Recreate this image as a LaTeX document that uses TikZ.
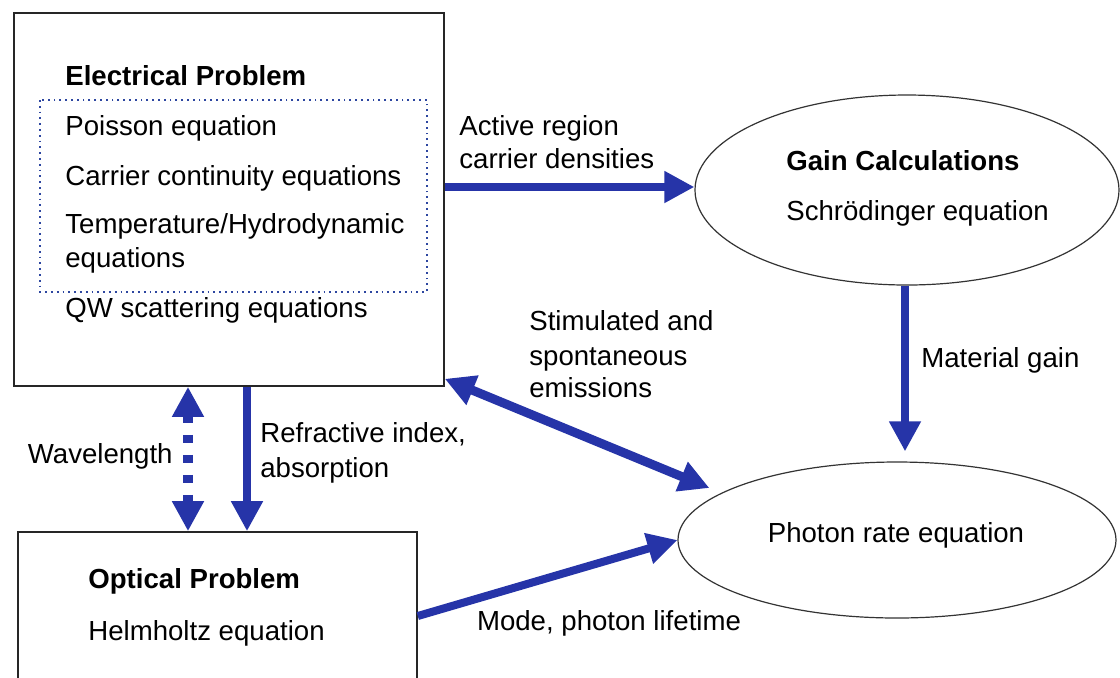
\documentclass[tikz,border=0pt]{standalone}
\usepackage{fontspec}
\setmainfont{Liberation Sans}
\usetikzlibrary{shapes.geometric,arrows.meta}
\definecolor{flowblue}{RGB}{38,52,168}
\definecolor{dotblue}{RGB}{45,70,160}

\begin{document}
\begin{tikzpicture}[x=0.5pt,y=-0.5pt,
  every node/.style={font=\fontsize{13.8}{17}\selectfont},
  box/.style={draw=black!85, line width=0.8pt, inner sep=0pt},
  oval/.style={ellipse, draw=black!80, line width=0.6pt, inner sep=0pt},
  txt/.style={anchor=base west, inner sep=0pt},
  flow/.style={draw=flowblue, line width=4pt, -{Triangle[length=15pt,width=15pt]}},
  ]
\clip (0,0) rectangle (1120,677);
\fill[white] (0,0) rectangle (1120,677);

% blocks
\node[box, minimum width=215pt, minimum height=186.5pt] (elec) at (229,199.5) {};
\node[box, minimum width=199.5pt, minimum height=84pt] (optic) at (217.5,616) {};
\node[oval, minimum width=212pt, minimum height=95pt] (gain) at (907,190) {};
\node[oval, minimum width=219pt, minimum height=78pt] (photon) at (897,540) {};
\draw[dotblue, line width=0.9pt, dotted] (40,100) rectangle (427,292);

% texts in the blocks
\node[txt, font=\fontsize{13.8}{17}\selectfont\bfseries] (elechead) at (65,85) {Electrical Problem};
\node[txt] (poisson) at (65,135) {Poisson equation};
\node[txt] (carrier) at (65,185) {Carrier continuity equations};
\node[txt] (temp) at (65,233) {Temperature/Hydrodynamic};
\node[txt] (tempb) at (65,267) {equations};
\node[txt] (qw) at (65,317) {QW scattering equations};
\node[txt, font=\fontsize{13.8}{17}\selectfont\bfseries] (optichead) at (88,588) {Optical Problem};
\node[txt] (helm) at (88,640) {Helmholtz equation};
\node[txt, font=\fontsize{13.8}{17}\selectfont\bfseries] (gainhead) at (786,170) {Gain Calculations};
\node[txt] (schr) at (786,220) {Schrödinger equation};
\node[anchor=base, inner sep=0pt] (rate) at (896,542) {Photon rate equation};

% labels
\node[txt] (acta) at (459,135) {Active region};
\node[txt] (actb) at (459,168) {carrier densities};
\node[txt] (stima) at (529,330) {Stimulated and};
\node[txt] (stimb) at (529,365) {spontaneous};
\node[txt] (stimc) at (529,397) {emissions};
\node[txt] (matgain) at (921,367) {Material gain};
\node[txt] (refra) at (260,442) {Refractive index,};
\node[txt] (refrb) at (260,477) {absorption};
\node[anchor=base east, inner sep=0pt] (wave) at (173,463) {Wavelength};
\node[anchor=base, inner sep=0pt] (mode) at (609,630) {Mode, photon lifetime};

% arrows
\draw[flow] (elec.east |- 0,187) -- (gain.west |- 0,187);
\draw[flow] ([xshift=-1pt]gain.south) -- ([xshift=-1pt,yshift=5pt]gain.south |- photon.north);
\draw[flow, line width=4.5pt, {Triangle[length=15pt,width=15pt]}-{Triangle[length=15pt,width=15pt]}]
  ([yshift=4pt]elec.south east) -- ([xshift=16pt,yshift=26pt]photon.west);
\draw[flow] (optic.east) -- (photon.west);
\draw[flow] ([xshift=9pt]elec.south) -- ([xshift=9pt]elec.south |- optic.north);
\draw[flow, line width=5pt, dash pattern=on 4pt off 6pt,
  {Triangle[length=15pt,width=15pt]}-{Triangle[length=15pt,width=15pt]}]
  ([xshift=-20.5pt]elec.south) -- ([xshift=-20.5pt]elec.south |- optic.north);
\end{tikzpicture}
\end{document}
